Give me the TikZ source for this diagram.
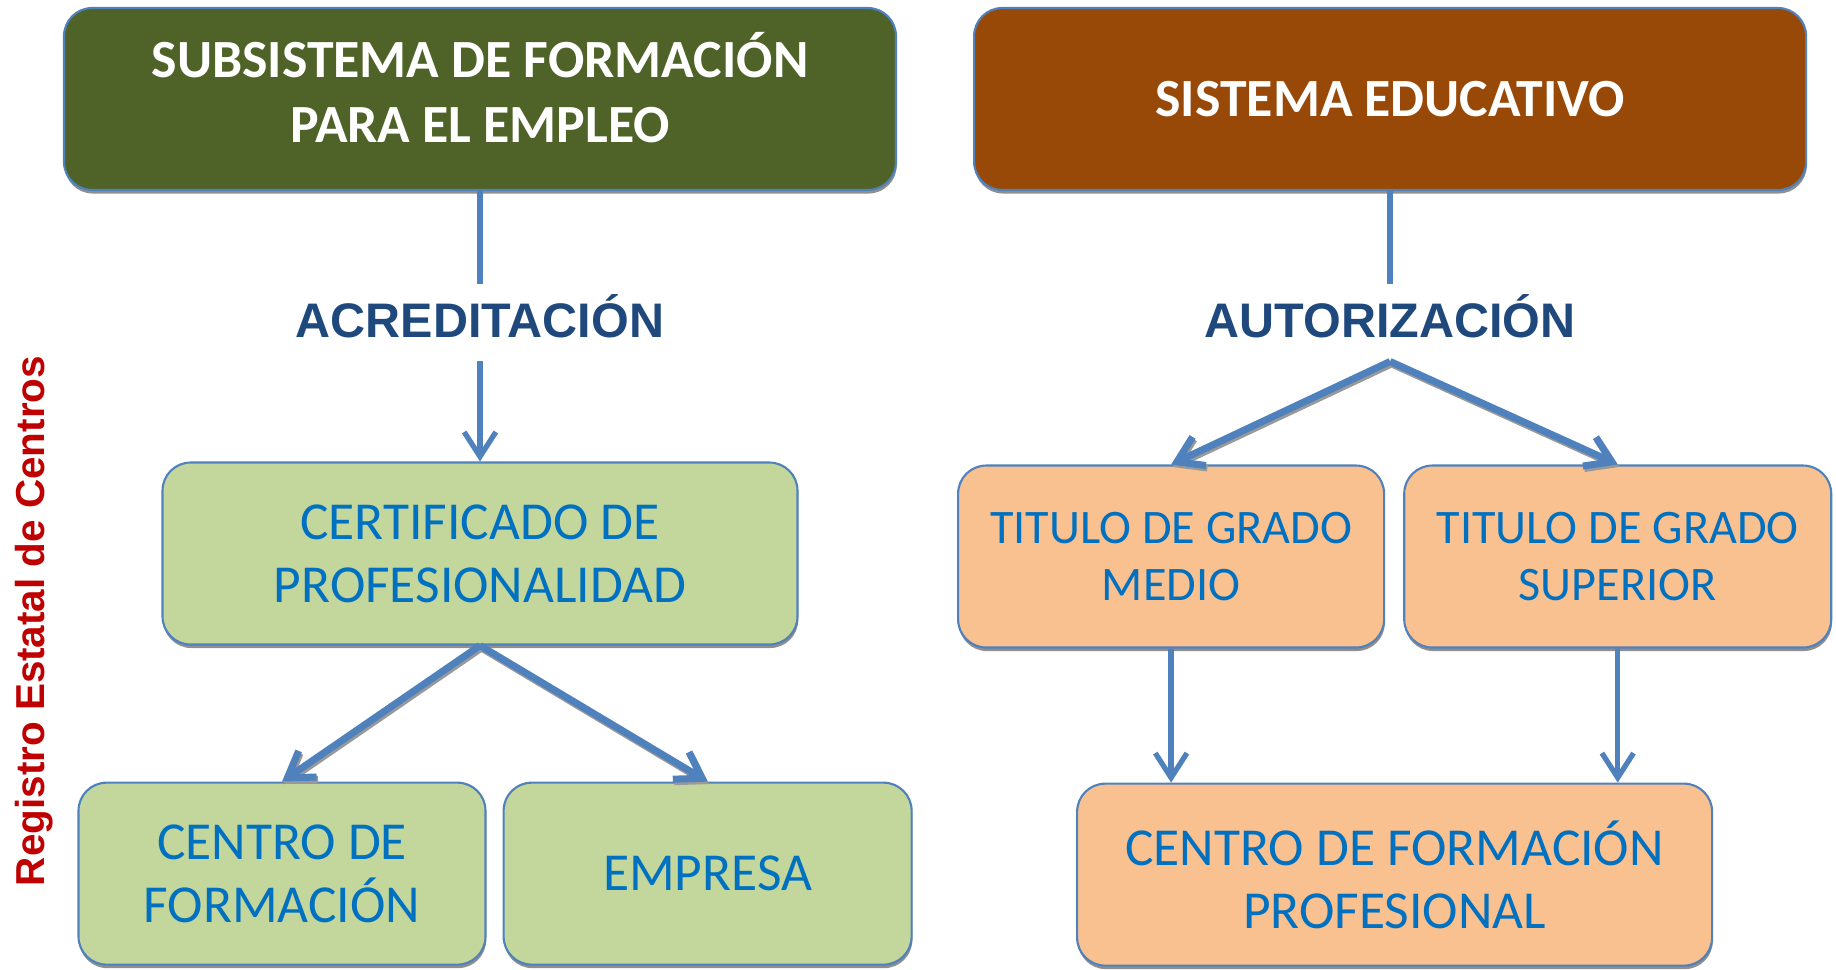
\documentclass[tikz,border=0pt]{standalone}
\usepackage{fontspec}
\setmainfont{Carlito}
\newfontfamily\arialfont{Liberation Sans}
\usetikzlibrary{arrows.meta, shapes, calc, positioning, shadows}

\definecolor{oliveDark}{HTML}{4F6228}
\definecolor{brownDark}{HTML}{984807}
\definecolor{greenLight}{HTML}{C3D69B}
\definecolor{peach}{HTML}{F9C090}
\definecolor{borderBlue}{HTML}{4F81BD}
\definecolor{textBlue}{HTML}{0070C0}
\definecolor{navy}{HTML}{1F497D}
\definecolor{darkRed}{HTML}{C00000}

\begin{document}
\begin{tikzpicture}[>={Straight Barb[length=7pt,width=9pt]},
    box/.style={draw=borderBlue, line width=0.6pt, rounded corners=8pt, align=center,
        inner sep=0pt, minimum height=1.82cm, text=textBlue,
        font=\fontsize{15.2}{18}\selectfont,
        drop shadow={shadow xshift=0.2pt, shadow yshift=-1pt, fill=black!55, opacity=0.8}},
    topbox/.style={box, text=white, minimum width=8.32cm,
        font=\bfseries\fontsize{15.3}{18.3}\selectfont},
    greenbox/.style={box, fill=greenLight},
    peachbox/.style={box, fill=peach},
    action/.style={text=navy, font=\arialfont\bfseries\fontsize{13.8}{16}\selectfont,
        inner sep=0pt, minimum height=0.76cm, text depth=4pt},
    link/.style={draw=borderBlue, line width=1.5pt},
    fork/.style={link, line width=2pt,
        preaction={draw=black!40, line width=2pt, transform canvas={xshift=0.4pt, yshift=-0.7pt}}}]
\useasboundingbox (0,0) rectangle (18.36,-9.69);
\draw
    node [topbox, fill=oliveDark] (sub) at (4.80,-0.99) {SUBSISTEMA DE FORMACIÓN\\PARA EL EMPLEO\rule[-6.6pt]{0pt}{6.6pt}}
    node [topbox, fill=brownDark, right=0.76 of sub] (edu) {SISTEMA EDUCATIVO}
    node [action, below=0.93 of sub] (acred) {ACREDITACIÓN}
    node [action, below=0.93 of edu] (autor) {AUTORIZACIÓN}
    node [greenbox, minimum width=6.35cm, below=1.0 of acred] (cert) {CERTIFICADO DE\\PROFESIONALIDAD}
    node [greenbox, minimum width=4.07cm, below=1.36 of cert, xshift=-1.98cm] (centro) {CENTRO DE\\FORMACIÓN}
    node [greenbox, minimum width=4.08cm, right=0.16 of centro] (empresa) {EMPRESA}
    node [peachbox, minimum width=4.26cm, below=1.03 of autor, xshift=-2.19cm,
        font=\fontsize{13.7}{16}\selectfont] (medio) {TITULO DE GRADO\\MEDIO}
    node [peachbox, minimum width=4.27cm, right=0.18 of medio,
        font=\fontsize{13.7}{16}\selectfont] (superior) {TITULO DE GRADO\\SUPERIOR}
    node [peachbox, minimum width=6.35cm, below=1.34 of medio, xshift=2.235cm] (cfp) {CENTRO DE FORMACIÓN\\PROFESIONAL}
;
\node [rotate=90, text=darkRed, font=\arialfont\bfseries\fontsize{11.5}{14}\selectfont] (registro) at (0.345,-6.21) {Registro Estatal de Centros};
\draw[link] (sub) -- (acred);
\draw[link, ->] (acred) -- (cert);
\draw[link] (edu) -- (autor);
\draw[fork, ->] (cert.south) -- (centro.north);
\draw[fork, ->] (cert.south) -- (empresa.north);
\draw[fork, ->] (autor.south) -- (medio.north);
\draw[fork, ->] (autor.south) -- (superior.north);
\draw[link, ->] (medio) -- (medio |- cfp.north);
\draw[link, ->] (superior) -- (superior |- cfp.north);
\end{tikzpicture}
\end{document}
